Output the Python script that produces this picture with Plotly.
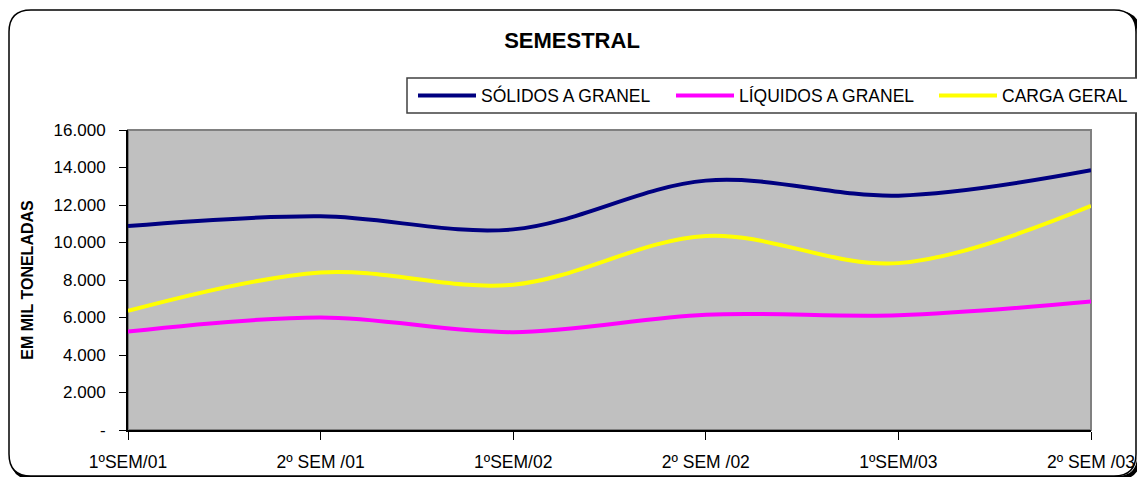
import plotly.graph_objects as go

categorias = ["1ºSEM/01", "2º SEM /01", "1ºSEM/02", "2º SEM /02", "1ºSEM/03", "2º SEM /03"]
solidos = [10880, 11400, 10700, 13300, 12500, 13850]
liquidos = [5250, 6000, 5220, 6150, 6120, 6850]
carga_geral = [6350, 8400, 7750, 10350, 8900, 11950]
y_ticks = [0, 2000, 4000, 6000, 8000, 10000, 12000, 14000, 16000]
y_ticktext = ["-", "2.000", "4.000", "6.000", "8.000", "10.000", "12.000", "14.000", "16.000"]

W, H = 1137, 477
L, R, T, B = 128, 1091, 130, 430


def px(p):
    return (p - L) / (R - L)


def py(p):
    return (B - p) / (B - T)


FONT = "Liberation Sans, Arial, sans-serif"

fig = go.Figure()
series = [
    ("SÓLIDOS A GRANEL", solidos, "#000080", "legend", 413),
    ("LÍQUIDOS A GRANEL", liquidos, "#FF00FF", "legend2", 671),
    ("CARGA GERAL", carga_geral, "#FFFF00", "legend3", 934),
]
for name, vals, col, lg, _ in series:
    fig.add_trace(go.Scatter(
        x=categorias, y=vals, name=name, mode="lines", legend=lg,
        line=dict(color=col, width=4, shape="spline", smoothing=1.0),
    ))


def rrect(x0, y0, x1, y1, r):
    return (f"M {px(x0 + r)},{py(y0)} L {px(x1 - r)},{py(y0)} "
            f"Q {px(x1)},{py(y0)} {px(x1)},{py(y0 + r)} "
            f"L {px(x1)},{py(y1 - r)} Q {px(x1)},{py(y1)} {px(x1 - r)},{py(y1)} "
            f"L {px(x0 + r)},{py(y1)} Q {px(x0)},{py(y1)} {px(x0)},{py(y1 - r)} "
            f"L {px(x0)},{py(y0 + r)} Q {px(x0)},{py(y0)} {px(x0 + r)},{py(y0)} Z")


shapes = [
    dict(type="path", xref="paper", yref="paper", path=rrect(12, 13, 1139, 478, 22),
         line=dict(color="black", width=4), layer="below"),
    dict(type="path", xref="paper", yref="paper", path=rrect(9, 10, 1136, 476, 22),
         line=dict(color="black", width=1.5), fillcolor="white", layer="below"),
    dict(type="rect", xref="paper", yref="paper", x0=0, y0=0, x1=1, y1=1,
         line=dict(color="#808080", width=2), fillcolor="#C0C0C0", layer="below"),
    dict(type="rect", xref="paper", yref="paper", x0=px(407), y0=py(78), x1=px(1150), y1=py(113),
         line=dict(color="#404040", width=1.5), fillcolor="white", layer="below"),
]

legend_common = dict(orientation="h", xanchor="left", yanchor="middle", y=py(95.5),
                     bgcolor="rgba(0,0,0,0)", borderwidth=0,
                     font=dict(family=FONT, size=17.5, color="black"), itemwidth=58)

fig.update_layout(
    width=W, height=H,
    autosize=False,
    margin=dict(l=L, r=W - R, t=T, b=H - B, autoexpand=False),
    paper_bgcolor="white",
    plot_bgcolor="rgba(0,0,0,0)",
    font=dict(family=FONT, size=17, color="black"),
    title=dict(text="<b>SEMESTRAL</b>", x=572 / W, xanchor="center", y=1 - 40 / H, yanchor="middle",
               font=dict(family=FONT, size=22, color="black")),
    showlegend=True,
    legend=dict(legend_common, x=px(series[0][4])),
    legend2=dict(legend_common, x=px(series[1][4])),
    legend3=dict(legend_common, x=px(series[2][4])),
    shapes=shapes,
    xaxis=dict(type="category", range=[0, 5], showgrid=False, zeroline=False, automargin=False,
               showline=True, linecolor="black", linewidth=2,
               ticks="outside", ticklen=8, tickcolor="black", tickwidth=1,
               tickfont=dict(family=FONT, size=17.5), ticklabelstandoff=7),
    yaxis=dict(range=[0, 16000], showgrid=False, zeroline=False, automargin=False,
               showline=True, linecolor="black", linewidth=2,
               tickvals=y_ticks, ticktext=y_ticktext,
               ticks="outside", ticklen=7, tickcolor="black", tickwidth=1,
               tickfont=dict(family=FONT, size=17), ticklabelstandoff=10,
               title=dict(text="<b>EM MIL TONELADAS</b>", font=dict(family=FONT, size=16), standoff=16)),
)

fig.write_html("out.html", config={"displayModeBar": False},
               post_script="document.body.style.margin='0';document.body.style.overflow='hidden';")
